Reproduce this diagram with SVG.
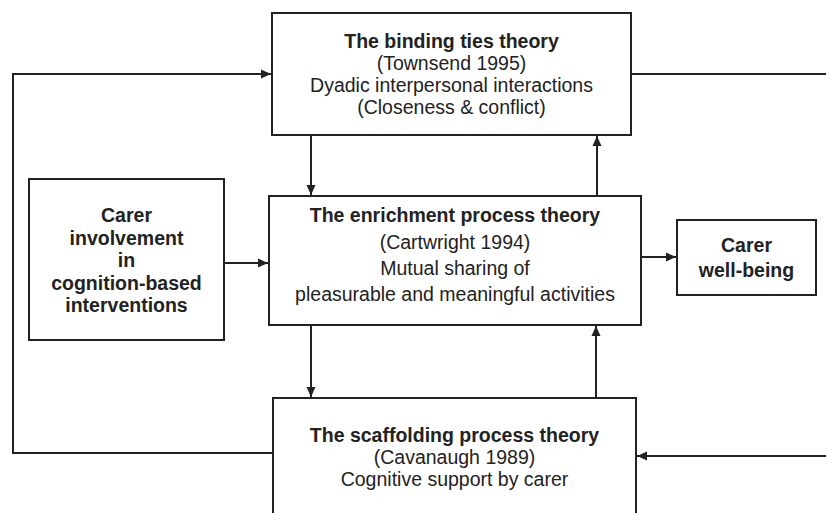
<svg xmlns="http://www.w3.org/2000/svg" width="826" height="513" viewBox="0 0 826 513">
<defs>
<marker id="ah" viewBox="0 0 10 10" refX="10" refY="5" markerWidth="10" markerHeight="10" markerUnits="userSpaceOnUse" orient="auto">
<path d="M0,0.5 L10,5 L0,9.5 Z" fill="#222"/>
</marker>
<style>
.box{fill:#fff;stroke:#222;stroke-width:2}
.t{font-family:"Liberation Sans",Arial,sans-serif;font-size:19.5px;fill:#222;text-anchor:middle}
.b{font-weight:bold}
.c{fill:none;stroke:#222;stroke-width:2}
.a{marker-end:url(#ah)}
</style>
</defs>
<rect width="826" height="513" fill="#fff"/>
<g id="connectors">
<polyline class="c a" points="273,453 13,453 13,74 271,74"/>
<line class="c" x1="631" y1="74" x2="826" y2="74"/>
<line class="c a" x1="826" y1="456" x2="637" y2="456"/>
<line class="c a" x1="224" y1="263" x2="268" y2="263"/>
<line class="c a" x1="641" y1="257" x2="676" y2="257"/>
<line class="c a" x1="311" y1="135" x2="311" y2="195"/>
<line class="c a" x1="597" y1="196" x2="597" y2="136"/>
<line class="c a" x1="311" y1="325" x2="311" y2="397"/>
<line class="c a" x1="596" y1="398" x2="596" y2="326"/>
</g>
<g id="binding">
<rect class="box" x="272" y="13" width="359" height="122"/>
<text class="t b" x="451.5" y="48">The binding ties theory</text>
<text class="t" x="451.5" y="70">(Townsend 1995)</text>
<text class="t" x="451.5" y="92">Dyadic interpersonal interactions</text>
<text class="t" x="451.5" y="114">(Closeness &amp; conflict)</text>
</g>
<g id="carer-involvement">
<rect class="box" x="29" y="179" width="195" height="161"/>
<text class="t b" x="126.5" y="222">Carer</text>
<text class="t b" x="126.5" y="245">involvement</text>
<text class="t b" x="126.5" y="267">in</text>
<text class="t b" x="126.5" y="290">cognition-based</text>
<text class="t b" x="126.5" y="312">interventions</text>
</g>
<g id="enrichment">
<rect class="box" x="269" y="196" width="372" height="129"/>
<text class="t b" x="455" y="222">The enrichment process theory</text>
<text class="t" x="455" y="249">(Cartwright 1994)</text>
<text class="t" x="455" y="275">Mutual sharing of</text>
<text class="t" x="455" y="301">pleasurable and meaningful activities</text>
</g>
<g id="wellbeing">
<rect class="box" x="677" y="220" width="139" height="75"/>
<text class="t b" x="746.5" y="252">Carer</text>
<text class="t b" x="746.5" y="277">well-being</text>
</g>
<g id="scaffolding">
<rect class="box" x="273" y="398" width="363" height="130"/>
<text class="t b" x="454.5" y="442">The scaffolding process theory</text>
<text class="t" x="454.5" y="464">(Cavanaugh 1989)</text>
<text class="t" x="454.5" y="486">Cognitive support by carer</text>
</g>
</svg>
